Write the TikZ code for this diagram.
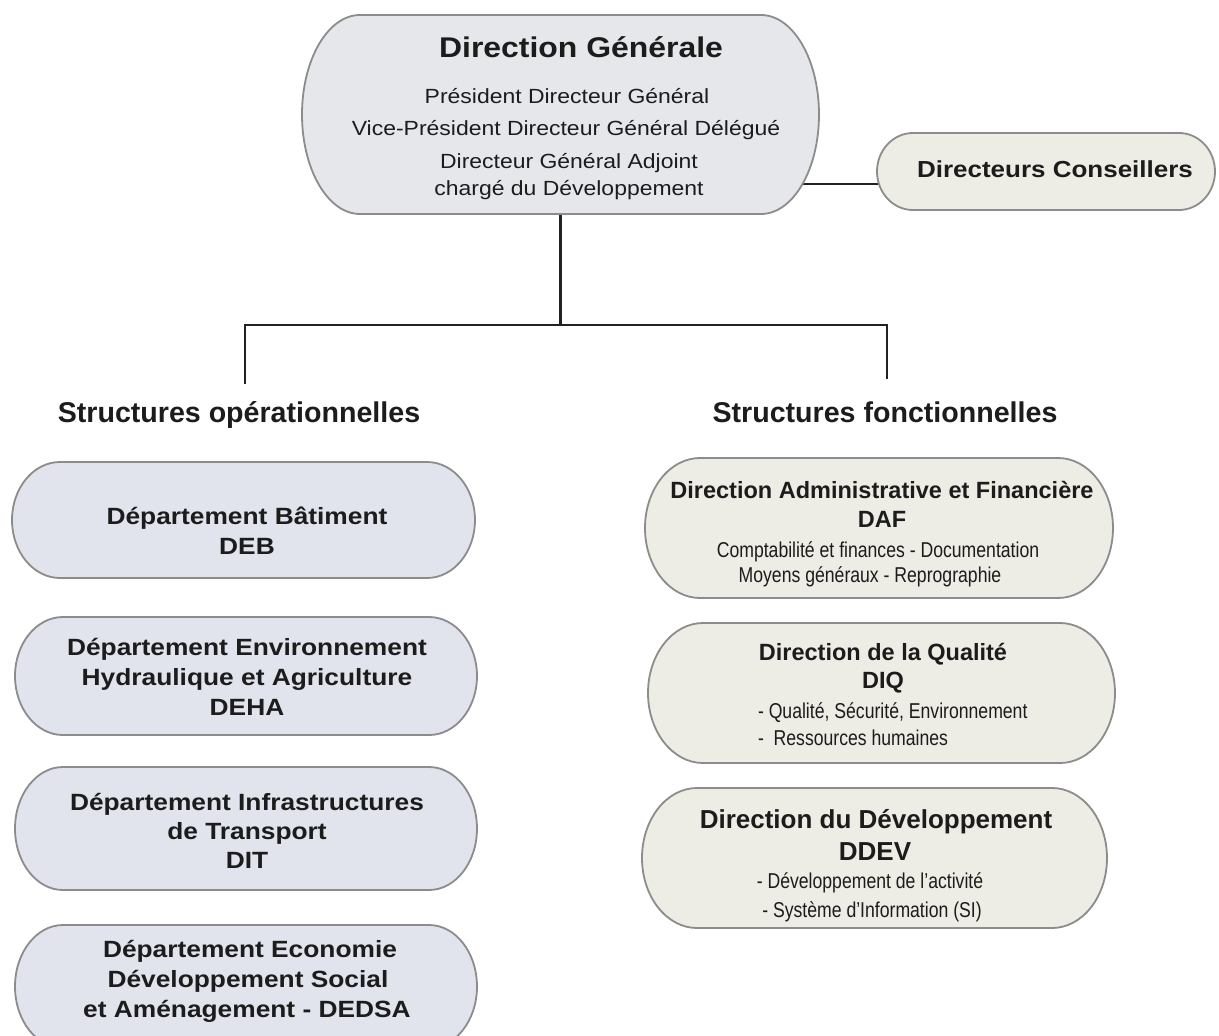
\documentclass[tikz,border=0pt]{standalone}
\usepackage{fontspec}
\setmainfont{Liberation Sans}
\newfontfamily\widefont{Liberation Sans}[FakeStretch=1.12]
\newfontfamily\narrowfont{Liberation Sans}[FakeStretch=0.82]
\definecolor{bordergray}{HTML}{8C8C8C}
\definecolor{linecol}{HTML}{222222}
\definecolor{dgfill}{HTML}{E6E7EB}
\definecolor{bluefill}{HTML}{E2E4ED}
\definecolor{beigefill}{HTML}{EDECE5}
\definecolor{textcol}{HTML}{1C1C1C}
\newcommand\fsz[1]{\fontsize{#1}{#1}\selectfont}
\newcommand\pill[4]{%
  \path[#1] ([xshift=#3pt]#2.north west) -- ([xshift=-#3pt]#2.north east)
    arc[start angle=90,end angle=-90,x radius=#3pt,y radius=#4pt]
    -- ([xshift=#3pt]#2.south west)
    arc[start angle=270,end angle=90,x radius=#3pt,y radius=#4pt] -- cycle;}
\begin{document}
\begin{tikzpicture}[x=1pt,y=-1pt,
  shapebox/.style={rectangle, inner sep=0pt, outer sep=0pt},
  grayline/.style={draw=bordergray, line width=1.8pt},
  dgpill/.style={grayline, fill=dgfill},
  bluepill/.style={grayline, fill=bluefill},
  beigepill/.style={grayline, fill=beigefill},
  conn/.style={draw=linecol, line width=2.6pt},
  txt/.style={inner sep=0pt, outer sep=0pt, anchor=base, text=textcol},
  dgtitle/.style={txt, font=\widefont\bfseries\fsz{28.5}},
  dgline/.style={txt, font=\widefont\fsz{20.5}},
  dctext/.style={txt, font=\widefont\bfseries\fsz{23.2}},
  head/.style={txt, font=\bfseries\fsz{28.6}},
  ltext/.style={txt, font=\widefont\bfseries\fsz{23.5}},
  rtitle/.style={txt, font=\bfseries\fsz{23.5}},
  rbig/.style={txt, font=\bfseries\fsz{26}},
  rsmall/.style={txt, font=\narrowfont\fsz{21.5}}
]
\useasboundingbox (0,0) rectangle (1219,1036);
\fill[white] (0,0) rectangle (1219,1036);
\clip (0,0) rectangle (1219,1036);

% geometry nodes
\node[shapebox, minimum width=517pt, minimum height=199pt] (dg) at (560.5,114.5) {};
\node[shapebox, minimum width=338pt, minimum height=77pt] (dc) at (1046,171.5) {};
\node[shapebox, minimum width=463pt, minimum height=116pt] (deb) at (243.5,520) {};
\node[shapebox, minimum width=462pt, minimum height=118pt] (deha) at (246,676) {};
\node[shapebox, minimum width=462pt, minimum height=123pt] (dit) at (246,828.5) {};
\node[shapebox, minimum width=462pt, minimum height=123pt] (dedsa) at (246,986.5) {};
\node[shapebox, minimum width=468pt, minimum height=140pt] (daf) at (879,528) {};
\node[shapebox, minimum width=467pt, minimum height=140pt] (diq) at (881.5,693) {};
\node[shapebox, minimum width=465pt, minimum height=140pt] (ddev) at (874.5,858) {};

% connectors
\coordinate (hl) at (245,325);
\coordinate (hr) at (887,325);
\coordinate (el) at (245,384);
\coordinate (er) at (887,379);
\coordinate (dcjoin) at (885,184);
\draw[conn] (dg.center) -- (dg.center |- hl);
\draw[conn] (el) -- (hl) -- (hr) -- (er);
\draw[conn] (dcjoin) -- (dcjoin -| dg.center);

% shapes
\pill{dgpill}{dg}{58}{99.5}
\pill{beigepill}{dc}{36}{38.5}
\pill{bluepill}{deb}{48}{58}
\pill{bluepill}{deha}{48}{59}
\pill{bluepill}{dit}{48}{61.5}
\pill{bluepill}{dedsa}{48}{61.5}
\pill{beigepill}{daf}{55}{70}
\pill{beigepill}{diq}{55}{70}
\pill{beigepill}{ddev}{55}{70}

% texts: Direction Generale
\node[dgtitle] (dgt) at (581,57) {Direction Générale};
\node[dgline] (dg1) at (567,103) {Président Directeur Général};
\node[dgline] (dg2) at (566,135) {Vice-Président Directeur Général Délégué};
\node[dgline] (dg3) at (569,168) {Directeur Général Adjoint};
\node[dgline] (dg4) at (569,195) {chargé du Développement};
\node[dctext] (dct) at (1055,177) {Directeurs Conseillers};

% headings
\node[head] (hop) at (239,422) {Structures opérationnelles};
\node[head] (hfo) at (885,422) {Structures fonctionnelles};

% left boxes
\node[ltext] (deb1) at (247,524) {Département Bâtiment};
\node[ltext] (deb2) at (247,554) {DEB};
\node[ltext] (deha1) at (247,655) {Département Environnement};
\node[ltext] (deha2) at (247,685) {Hydraulique et Agriculture};
\node[ltext] (deha3) at (247,715) {DEHA};
\node[ltext] (dit1) at (247,810) {Département Infrastructures};
\node[ltext] (dit2) at (247,839) {de Transport};
\node[ltext] (dit3) at (247,868) {DIT};
\node[ltext] (dedsa1) at (250,957) {Département Economie};
\node[ltext] (dedsa2) at (248,987) {Développement Social};
\node[ltext] (dedsa3) at (247,1017) {et Aménagement - DEDSA};

% right boxes
\node[rtitle] (daf1) at (882,498) {Direction Administrative et Financière};
\node[rtitle] (daf2) at (882,527) {DAF};
\node[rsmall] (daf3) at (878,557) {Comptabilité et finances - Documentation};
\node[rsmall] (daf4) at (870,582) {Moyens généraux - Reprographie};

\node[rtitle] (diq1) at (883,660) {Direction de la Qualité};
\node[rtitle] (diq2) at (883,688) {DIQ};
\node[rsmall, anchor=base west] (diq3) at (758,718) {- Qualité, Sécurité, Environnement};
\node[rsmall, anchor=base west] (diq4) at (758,745) {-\ \ Ressources humaines};

\node[rbig] (ddev1) at (876,828) {Direction du Développement};
\node[rbig] (ddev2) at (875,860) {DDEV};
\node[rsmall] (ddev3) at (870,888) {- Développement de l’activité};
\node[rsmall] (ddev4) at (872,917) {- Système d’Information (SI)};
\end{tikzpicture}
\end{document}
